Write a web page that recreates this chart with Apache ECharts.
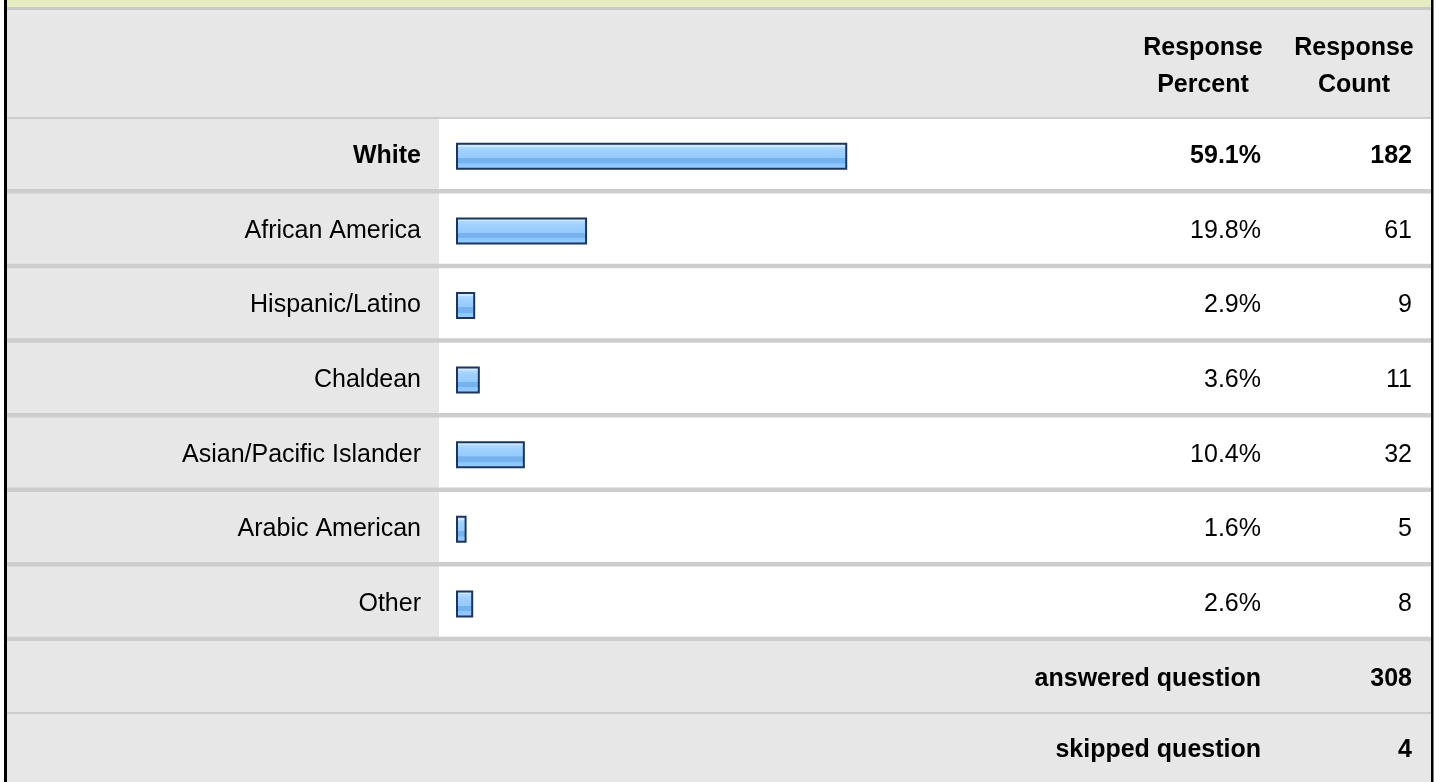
<!DOCTYPE html>
<html>
<head>
<meta charset="utf-8">
<script src="https://cdn.jsdelivr.net/npm/echarts@6/dist/echarts.min.js"></script>
<style>
html,body{margin:0;padding:0;background:#fff;overflow:hidden;}
#c{width:1437px;height:782px;}
</style>
</head>
<body>
<div id="c"></div>
<script>
// ---- data ----
const categories = ['White', 'African America', 'Hispanic/Latino', 'Chaldean', 'Asian/Pacific Islander', 'Arabic American', 'Other'];
const percents = [59.1, 19.8, 2.9, 3.6, 10.4, 1.6, 2.6];
const counts = [182, 61, 9, 11, 32, 5, 8];
const boldRows = [0];
const headerPercent = ['Response', 'Percent'];
const headerCount = ['Response', 'Count'];
const footerLabels = ['answered question', 'skipped question'];
const footerValues = [308, 4];

// ---- layout ----
const FONT = '"Liberation Sans", Arial, Helvetica, sans-serif';
const FS = 25;
const W = 1437, H = 782;
const gridTopY = 119;
const rowH = 74.6;
const nRows = categories.length;
const gridBottomY = gridTopY + rowH * nRows;
const zeroX = 456;
const pxPerUnit = 6.62;
const xMax = 100;
const gridRightX = zeroX + pxPerUnit * xMax;
const pctRightX = 1261;
const countRightX = 1412;
const labelRightX = 421;
const leftBorderX = 4, innerLeft = 7, innerRight = 1431;
const GRAY = '#e7e7e7', SEP = '#cdcdcd';

const chart = echarts.init(document.getElementById('c'), null, {renderer: 'canvas'});

function rich(i, txt) {
  return boldRows.includes(i) ? '{b|' + txt + '}' : '{n|' + txt + '}';
}
const richStyles = {
  b: {fontWeight: 'bold', fontSize: FS, fontFamily: FONT, color: '#000'},
  n: {fontWeight: 'normal', fontSize: FS, fontFamily: FONT, color: '#000'}
};

const g = [];
// outer backgrounds
g.push({type: 'rect', shape: {x: innerLeft, y: 0, width: innerRight - innerLeft, height: 7}, style: {fill: '#e6ebc0'}, z: -10});
g.push({type: 'rect', shape: {x: innerLeft, y: 7, width: innerRight - innerLeft, height: 3}, style: {fill: '#c9c9c9'}, z: -10});
// header
g.push({type: 'rect', shape: {x: innerLeft, y: 10, width: innerRight - innerLeft, height: 107}, style: {fill: GRAY}, z: -10});
g.push({type: 'rect', shape: {x: innerLeft, y: 117, width: innerRight - innerLeft, height: 2}, style: {fill: SEP}, z: -10});
// body: label column gray, rest white
g.push({type: 'rect', shape: {x: innerLeft, y: gridTopY, width: 439 - innerLeft, height: gridBottomY - gridTopY}, style: {fill: GRAY}, z: -10});
g.push({type: 'rect', shape: {x: 439, y: gridTopY, width: innerRight - 439, height: gridBottomY - gridTopY}, style: {fill: '#ffffff'}, z: -10});
for (let k = 1; k <= nRows; k++) {
  const yb = gridTopY + rowH * k;
  g.push({type: 'rect', shape: {x: innerLeft, y: yb - 4.5, width: innerRight - innerLeft, height: 4.5}, style: {fill: SEP}, z: -9});
}
// footer
g.push({type: 'rect', shape: {x: innerLeft, y: gridBottomY, width: innerRight - innerLeft, height: H - gridBottomY}, style: {fill: GRAY}, z: -10});
g.push({type: 'rect', shape: {x: innerLeft, y: 712, width: innerRight - innerLeft, height: 2}, style: {fill: SEP}, z: -9});
// borders
g.push({type: 'rect', shape: {x: leftBorderX, y: 0, width: 3, height: H}, style: {fill: '#000'}, z: 20});
g.push({type: 'rect', shape: {x: innerRight, y: 0, width: 2.5, height: H}, style: {fill: '#000'}, z: 20});
// header texts
g.push({type: 'text', z: 20, style: {text: headerPercent.join('\n'), x: 1203, y: 67, align: 'center', verticalAlign: 'middle', font: 'bold ' + FS + 'px ' + FONT, lineHeight: 37, fill: '#000'}});
g.push({type: 'text', z: 20, style: {text: headerCount.join('\n'), x: 1354, y: 67, align: 'center', verticalAlign: 'middle', font: 'bold ' + FS + 'px ' + FONT, lineHeight: 37, fill: '#000'}});
// footer texts
const footerY = [679, 750];
footerLabels.forEach((t, i) => {
  g.push({type: 'text', z: 20, style: {text: t, x: pctRightX, y: footerY[i], align: 'right', verticalAlign: 'middle', font: 'bold ' + FS + 'px ' + FONT, fill: '#000'}});
  g.push({type: 'text', z: 20, style: {text: String(footerValues[i]), x: countRightX, y: footerY[i], align: 'right', verticalAlign: 'middle', font: 'bold ' + FS + 'px ' + FONT, fill: '#000'}});
});

const axisCommon = {
  type: 'category',
  inverse: true,
  axisLine: {show: false},
  axisTick: {show: false},
  splitLine: {show: false},
  z: 10
};

const option = {
  animation: false,
  backgroundColor: '#ffffff',
  grid: {left: zeroX, right: W - gridRightX, top: gridTopY, bottom: H - gridBottomY, containLabel: false},
  xAxis: {type: 'value', min: 0, max: xMax, show: false},
  yAxis: [
    Object.assign({}, axisCommon, {
      data: categories, position: 'left',
      axisLabel: {margin: zeroX - labelRightX, align: 'right', formatter: (v, i) => rich(i, v), rich: richStyles}
    }),
    Object.assign({}, axisCommon, {
      data: percents.map(p => p.toFixed(1) + '%'), position: 'right',
      axisLabel: {margin: pctRightX - gridRightX, align: 'right', formatter: (v, i) => rich(i, v), rich: richStyles}
    }),
    Object.assign({}, axisCommon, {
      data: counts.map(String), position: 'right',
      axisLabel: {margin: countRightX - gridRightX, align: 'right', formatter: (v, i) => rich(i, v), rich: richStyles}
    })
  ],
  series: [{
    type: 'bar',
    yAxisIndex: 0,
    data: percents,
    barWidth: 27,
    silent: true,
    z: 10,
    itemStyle: {
      borderColor: '#1b365d',
      borderWidth: 2,
      color: new echarts.graphic.LinearGradient(0, 0, 0, 1, [
        {offset: 0, color: '#cfe8ff'},
        {offset: 0.14, color: '#cfe8ff'},
        {offset: 0.15, color: '#b0d9ff'},
        {offset: 0.3, color: '#9fd0ff'},
        {offset: 0.56, color: '#96cbff'},
        {offset: 0.57, color: '#76b2ee'},
        {offset: 0.76, color: '#76b2ee'},
        {offset: 0.77, color: '#8cc5ff'},
        {offset: 1, color: '#97ccff'}
      ])
    }
  }],
  graphic: {elements: g}
};
chart.setOption(option);
</script>
</body>
</html>
